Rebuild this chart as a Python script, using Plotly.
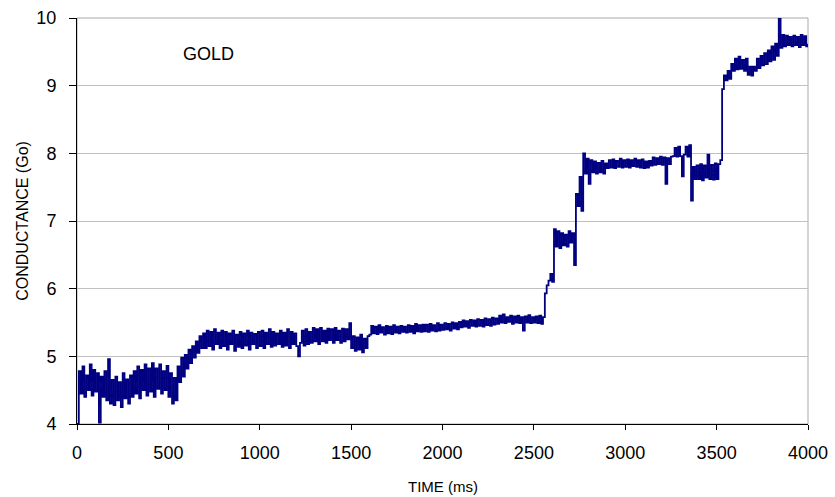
import plotly.graph_objects as go

# Conductance trace sampled every 10 ms (0 .. 4000 ms)
time_step_ms = 10
conductance = [
    # 0-90
    4.00, 4.78, 4.45, 4.85, 4.40, 4.72, 4.50, 4.88, 4.42, 4.80,
    # 100-190
    4.48, 4.75, 4.02, 4.70, 4.40, 4.78, 4.35, 4.96, 4.30, 4.65,
    # 200-290
    4.28, 4.70, 4.35, 4.62, 4.25, 4.75, 4.38, 4.66, 4.30, 4.72,
    # 300-390
    4.40, 4.78, 4.45, 4.85, 4.38, 4.80, 4.50, 4.88, 4.42, 4.82,
    # 400-490
    4.48, 4.90, 4.40, 4.82, 4.52, 4.88, 4.45, 4.78, 4.50, 4.86,
    # 500-590
    4.40, 4.75, 4.30, 4.68, 4.35, 4.85, 4.62, 4.98, 4.70, 5.02,
    # 600-690
    4.82, 5.10, 4.90, 5.15, 4.98, 5.22, 5.05, 5.30, 5.12, 5.34,
    # 700-790
    5.12, 5.38, 5.15, 5.36, 5.10, 5.40, 5.18, 5.35, 5.12, 5.38,
    # 800-890
    5.15, 5.36, 5.10, 5.34, 5.18, 5.38, 5.08, 5.32, 5.14, 5.36,
    # 900-990
    5.12, 5.34, 5.16, 5.38, 5.10, 5.35, 5.18, 5.33, 5.12, 5.36,
    # 1000-1090
    5.15, 5.38, 5.12, 5.35, 5.18, 5.40, 5.14, 5.36, 5.16, 5.34,
    # 1100-1190
    5.18, 5.38, 5.14, 5.35, 5.16, 5.40, 5.12, 5.36, 5.18, 5.34,
    # 1200-1290
    5.15, 5.00, 5.20, 5.38, 5.16, 5.40, 5.18, 5.36, 5.20, 5.42,
    # 1300-1390
    5.22, 5.40, 5.18, 5.42, 5.22, 5.38, 5.20, 5.41, 5.24, 5.40,
    # 1400-1490
    5.20, 5.42, 5.24, 5.38, 5.20, 5.41, 5.22, 5.40, 5.25, 5.49,
    # 1500-1590
    5.12, 5.30, 5.08, 5.28, 5.10, 5.32, 5.06, 5.26, 5.12, 5.30,
    # 1600-1690
    5.32, 5.45, 5.34, 5.44, 5.33, 5.46, 5.35, 5.43, 5.32, 5.45,
    # 1700-1790
    5.34, 5.44, 5.33, 5.46, 5.35, 5.44, 5.34, 5.45, 5.36, 5.44,
    # 1800-1890
    5.35, 5.46, 5.36, 5.45, 5.34, 5.48, 5.37, 5.46, 5.36, 5.47,
    # 1900-1990
    5.37, 5.47, 5.36, 5.48, 5.38, 5.46, 5.37, 5.49, 5.38, 5.47,
    # 2000-2090
    5.39, 5.49, 5.40, 5.48, 5.38, 5.50, 5.41, 5.49, 5.40, 5.51,
    # 2100-2190
    5.43, 5.53, 5.44, 5.52, 5.42, 5.54, 5.45, 5.53, 5.44, 5.55,
    # 2200-2290
    5.45, 5.54, 5.44, 5.56, 5.46, 5.55, 5.45, 5.57, 5.47, 5.56,
    # 2300-2390
    5.48, 5.60, 5.50, 5.62, 5.49, 5.58, 5.51, 5.60, 5.48, 5.59,
    # 2400-2490
    5.50, 5.60, 5.49, 5.58, 5.38, 5.59, 5.50, 5.61, 5.49, 5.58,
    # 2500-2590
    5.50, 5.59, 5.49, 5.60, 5.48, 5.58, 5.93, 6.05, 6.12, 6.22,
    # 2600-2690
    6.10, 6.88, 6.62, 6.85, 6.60, 6.82, 6.64, 6.80, 6.62, 6.85,
    # 2700-2790
    6.68, 6.82, 6.35, 7.40, 7.22, 7.65, 7.15, 8.00, 7.70, 7.92,
    # 2800-2890
    7.55, 7.90, 7.72, 7.88, 7.70, 7.86, 7.72, 7.89, 7.70, 7.85,
    # 2900-2990
    7.78, 7.90, 7.79, 7.91, 7.78, 7.89, 7.80, 7.92, 7.79, 7.90,
    # 3000-3090
    7.80, 7.91, 7.79, 7.90, 7.81, 7.92, 7.80, 7.90, 7.79, 7.91,
    # 3100-3190
    7.78, 7.88, 7.79, 7.89, 7.82, 7.94, 7.83, 7.93, 7.84, 7.95,
    # 3200-3290
    7.83, 7.94, 7.55, 7.93, 7.84, 7.95, 7.96, 8.08, 7.95, 8.10,
    # 3300-3390
    7.96, 7.66, 7.98, 8.10, 7.95, 8.12, 7.30, 7.80, 7.62, 7.82,
    # 3400-3490
    7.62, 7.84, 7.60, 7.82, 7.64, 7.98, 7.62, 7.83, 7.61, 7.85,
    # 3500-3590
    7.62, 7.84, 7.90, 8.95, 9.15, 9.08, 9.22, 9.10, 9.32, 9.22,
    # 3600-3690
    9.40, 9.24, 9.43, 9.25, 9.38, 9.22, 9.40, 9.16, 9.28, 9.15,
    # 3700-3790
    9.28, 9.22, 9.40, 9.26, 9.44, 9.30, 9.48, 9.32, 9.52, 9.36,
    # 3800-3890
    9.58, 9.38, 9.62, 9.44, 10.00, 9.56, 9.75, 9.58, 9.74, 9.60,
    # 3900-3990
    9.72, 9.58, 9.74, 9.60, 9.72, 9.57, 9.75, 9.60, 9.73, 9.58,
    # 4000
    9.62,
]
time_ms = [i * time_step_ms for i in range(len(conductance))]

x_ticks = [0, 500, 1000, 1500, 2000, 2500, 3000, 3500, 4000]
y_ticks = [4, 5, 6, 7, 8, 9, 10]

fig = go.Figure()
fig.add_trace(go.Scatter(
    x=time_ms, y=conductance, mode="lines",
    line=dict(color="#000080", width=1.8, shape="hv"),
    showlegend=False, hoverinfo="skip",
))

# Gray frame around the plotting area (top and right edges show)
fig.add_shape(type="rect", xref="paper", yref="paper", x0=0, y0=0, x1=1, y1=1,
              line=dict(color="#a8a8a8", width=1), layer="below")

text_font = "Liberation Sans, Arial"
fig.add_annotation(x=717, y=9.47, xref="x", yref="y", text="GOLD",
                   showarrow=False,
                   font=dict(family=text_font, size=18, color="#000000"))

# x-axis title placed below the tick labels
fig.add_annotation(x=0.5, y=-0.153, xref="paper", yref="paper", text="TIME (ms)",
                   showarrow=False, xanchor="center", yanchor="middle",
                   font=dict(family=text_font, size=15, color="#000000"))

fig.update_layout(
    width=835, height=497,
    margin=dict(l=77, r=27, t=18, b=73),
    paper_bgcolor="white", plot_bgcolor="white",
    font=dict(family=text_font, size=18, color="#000000"),
    xaxis=dict(
        range=[0, 4000], tickvals=x_ticks, ticktext=[str(v) for v in x_ticks],
        showgrid=False, zeroline=False, automargin=False,
        showline=True, linecolor="black", linewidth=1,
        ticks="outside", ticklen=5, tickcolor="black",
        tickfont=dict(size=18), ticklabelstandoff=7,
    ),
    yaxis=dict(
        range=[4, 10], tickvals=y_ticks, ticktext=[str(v) for v in y_ticks],
        showgrid=True, gridcolor="#c0c0c0", gridwidth=1, zeroline=False,
        automargin=False,
        showline=True, linecolor="black", linewidth=1,
        ticks="outside", ticklen=7, tickcolor="black",
        tickfont=dict(size=18), ticklabelstandoff=9,
        title=dict(text="CONDUCTANCE (Go)", font=dict(size=16), standoff=3),
    ),
)

fig.write_html("out.html")
